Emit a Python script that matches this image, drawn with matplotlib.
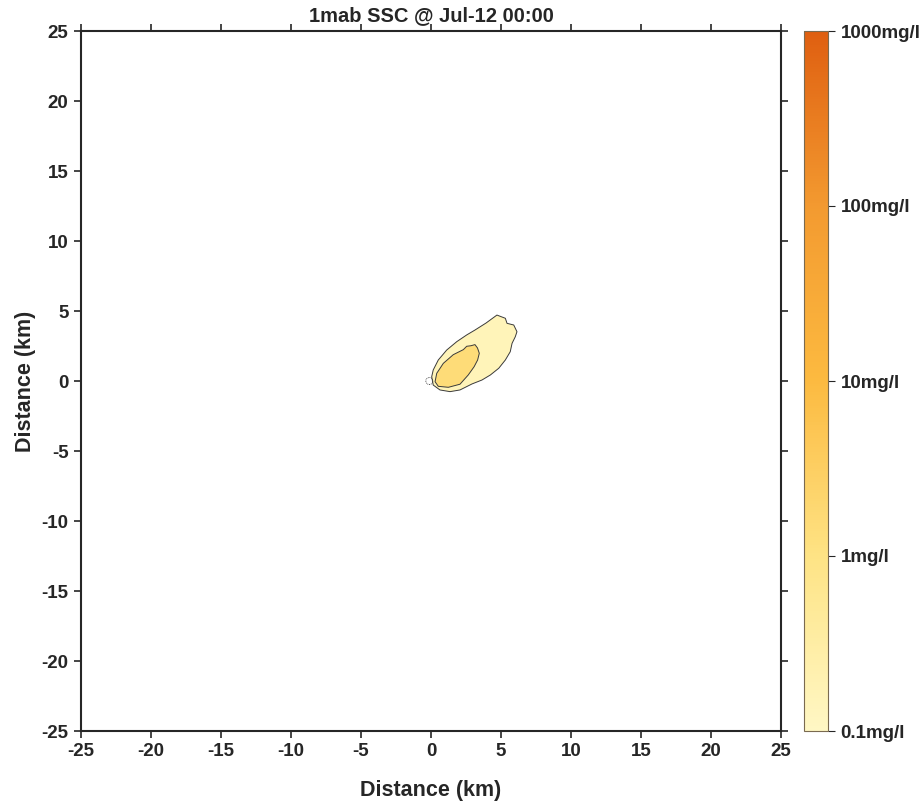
import numpy as np
import matplotlib
matplotlib.use("Agg")
import matplotlib.pyplot as plt
from matplotlib.colors import LinearSegmentedColormap, LogNorm
from matplotlib.patches import Polygon, Circle

plt.rcParams['font.family'] = ['Liberation Sans', 'DejaVu Sans']
plt.rcParams['font.weight'] = 'bold'
plt.rcParams['axes.unicode_minus'] = False

# Plume contour outlines (km east, km north) and their concentrations (mg/l)
outer_x = [0.05, 0.16, 0.52, 1.12, 1.84, 2.55, 3.14, 3.93, 4.71, 5.31, 5.43,
           5.91, 6.14, 6.02, 5.79, 5.66, 5.31, 4.84, 4.24, 3.64, 2.93, 2.07,
           1.36, 0.64, 0.16]
outer_y = [0.31, 0.79, 1.5, 2.21, 2.81, 3.29, 3.64, 4.14, 4.71, 4.48, 4.12,
           4.0, 3.52, 3.16, 2.69, 2.09, 1.5, 0.91, 0.43, 0.07, -0.21, -0.64,
           -0.76, -0.64, -0.29]
outer_conc = 0.15

inner_x = [0.29, 0.41, 0.88, 1.59, 2.31, 2.55, 2.86, 3.14, 3.32, 3.45, 3.33,
           3.08, 2.66, 2.07, 1.24, 0.52]
inner_y = [-0.05, 0.55, 1.26, 1.88, 2.24, 2.48, 2.52, 2.6, 2.36, 1.98, 1.5,
           1.02, 0.43, -0.23, -0.45, -0.38]
inner_conc = 1.5

source_xy = (-0.12, 0.0)

xticks = list(range(-25, 26, 5))
yticks = list(range(-25, 26, 5))
cbar_ticks = [0.1, 1, 10, 100, 1000]
cbar_labels = ['0.1mg/l', '1mg/l', '10mg/l', '100mg/l', '1000mg/l']

cmap = LinearSegmentedColormap.from_list(
    'ssc', [(0.0, '#FFF7C4'), (0.25, '#FEE384'), (0.5, '#FCBA40'),
            (0.75, '#F39A30'), (1.0, '#DF5F10')])
norm = LogNorm(vmin=0.1, vmax=1000)

fig = plt.figure(figsize=(9.21, 8.02), dpi=100)
ax = fig.add_axes([81/921, 71/802, 700/921, 700/802])
cax = fig.add_axes([804/921, 71/802, 24/921, 700/802])

edge = '#3a3a3a'
for xs, ys, c in [(outer_x, outer_y, outer_conc), (inner_x, inner_y, inner_conc)]:
    ax.add_patch(Polygon(np.column_stack([xs, ys]), closed=True,
                         facecolor=cmap(norm(c)), edgecolor=edge, linewidth=0.7))
ax.add_patch(Circle(source_xy, 0.25, fill=False, edgecolor=edge,
                    linewidth=0.6, linestyle=(0, (1, 1))))

ax.set_xlim(-25, 25)
ax.set_ylim(-25, 25)
ax.set_xticks(xticks)
ax.set_yticks(yticks)
ax.tick_params(direction='out', length=5, width=1.2, labelsize=13.5,
               colors='#262626', top=True, right=True, pad=4)
for lab in ax.get_xticklabels() + ax.get_yticklabels():
    lab.set_fontweight('bold')
for s in ax.spines.values():
    s.set_linewidth(1.5)
    s.set_color('#262626')
ax.set_xlabel('Distance (km)', fontsize=15.5, fontweight='bold', labelpad=14,
              color='#262626')
ax.set_ylabel('Distance (km)', fontsize=15.5, fontweight='bold', labelpad=4,
              color='#262626')
ax.set_title('1mab SSC @ Jul-12 00:00', fontsize=14.5, fontweight='bold', pad=7,
             color='#262626')

sm = matplotlib.cm.ScalarMappable(norm=norm, cmap=cmap)
cb = fig.colorbar(sm, cax=cax)
cb.set_ticks(cbar_ticks)
cb.set_ticklabels(cbar_labels)
cb.minorticks_off()
cb.outline.set_edgecolor('#7a6a50')
cb.outline.set_linewidth(0.8)
cax.tick_params(direction='out', length=5, width=0.8, labelsize=13.5,
                colors='#262626', pad=4)
for lab in cax.get_yticklabels():
    lab.set_fontweight('bold')

fig.savefig('out.png', dpi=100)
